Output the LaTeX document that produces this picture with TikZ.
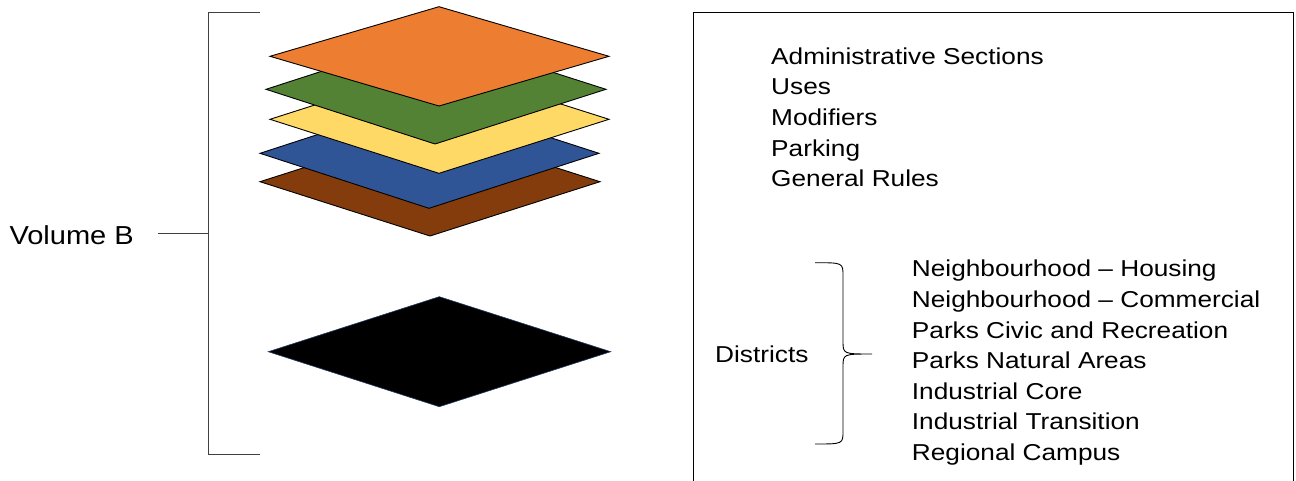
\documentclass[tikz,border=0pt]{standalone}
\usepackage{fontspec}
\setmainfont{Liberation Sans}
\usepackage{tikz}

\begin{document}
\begin{tikzpicture}[x=1pt,y=-1pt]
\tikzstyle{layer}=[draw=black,line width=0.9pt]
\tikzstyle{bracket}=[draw=black!75,line width=1pt]
\tikzstyle{every node}=[inner sep=0pt,xscale=1.14,font=\fontsize{23}{30.6}\selectfont]
\useasboundingbox (0,0) rectangle (1296,480);
\clip (0,0) rectangle (1296,480);

% layers, bottom one first
\filldraw[layer,fill={rgb,255:red,132;green,60;blue,12}] (260,181.7) -- (430,127.4) -- (600,181.7) -- (430,236) -- cycle;
\filldraw[layer,fill={rgb,255:red,47;green,85;blue,151}] (260,153.3) -- (429,98.3) -- (599,153.3) -- (429,208.3) -- cycle;
\filldraw[layer,fill={rgb,255:red,255;green,217;blue,102}] (270,119.3) -- (439,65.3) -- (609,119.3) -- (439,173.3) -- cycle;
\filldraw[layer,fill={rgb,255:red,84;green,130;blue,53}] (266,89.3) -- (435,34.6) -- (606,89.3) -- (435,144) -- cycle;
\filldraw[layer,fill={rgb,255:red,237;green,125;blue,49}] (270,56.3) -- (439,6.7) -- (609,56.3) -- (439,106) -- cycle;
\filldraw[draw={rgb,255:red,31;green,56;blue,100},line width=0.6pt,fill=black] (268.3,351.7) -- (439.3,296.7) -- (610.7,351.7) -- (439.3,406.7) -- cycle;

% bracket
\node[anchor=base west,xscale=0.98,font=\fontsize{26}{30}\selectfont] (vol) at (9.3,244) {Volume B};
\coordinate (btop) at (259.5,12.7);
\coordinate (bbot) at (259.5,454.3);
\coordinate (tick) at (157.7,233.3);
\draw[bracket] (btop) -- (208.3,12.7) -- (208.3,454.3) -- (bbot);
\draw[bracket] (tick) -- (208.3,233.3);

% box
\draw[line width=1pt] (693,500) -- (693,12.3) -- (1293,12.3) -- (1293,500);
% base anchor sits on the last line
\node[anchor=base west,align=left] (adm) at (771,186.7) {Administrative Sections\\Uses\\Modifiers\\Parking\\General Rules};

\node[anchor=base west] (dist) at (715,362.7) {Districts};
\draw[line width=0.9pt] (815,262.7) .. controls (843,262.7) .. (843,276) -- (843,341) .. controls (843,354) .. (872,354)
  .. controls (843,354) .. (843,367) -- (843,431) .. controls (843,444) .. (815,444);
\node[anchor=base west,align=left] (list) at (911.7,460.5) {Neighbourhood -- Housing\\Neighbourhood -- Commercial\\Parks Civic and Recreation\\Parks Natural Areas\\Industrial Core\\Industrial Transition\\Regional Campus};
\end{tikzpicture}
\end{document}
